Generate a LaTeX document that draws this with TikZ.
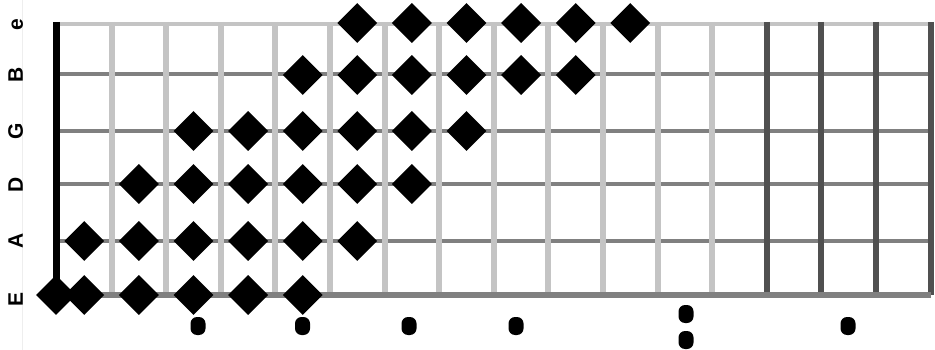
\documentclass[tikz,border=0pt]{standalone}
\usepackage{fontspec}
\setmainfont{Liberation Sans}
\usetikzlibrary{shapes.geometric}
\definecolor{fretlight}{HTML}{C4C4C4}
\definecolor{fretdark}{HTML}{505050}
\definecolor{stringgray}{HTML}{808080}
\definecolor{faintline}{HTML}{EEEEEE}
\begin{document}
\begin{tikzpicture}[x=1pt,y=-1pt,
  note/.style={diamond, fill=black, minimum width=40pt, minimum height=40pt, inner sep=0pt},
  inlay/.style={rectangle, fill=black, rounded corners=6.5pt, minimum width=15pt, minimum height=18pt, inner sep=0pt},
  lbl/.style={rotate=90, anchor=base, inner sep=0pt, font=\fontsize{21}{21}\selectfont\bfseries},
  lightfret/.style={draw=fretlight, line width=6pt},
  darkfret/.style={draw=fretdark, line width=6pt},
  midstring/.style={draw=stringgray, line width=3.5pt},
  topstring/.style={draw=fretlight, line width=4pt},
  lowstring/.style={draw=stringgray, line width=6pt},
  nutline/.style={draw=black, line width=7pt}]
\useasboundingbox (0,0) rectangle (935,350);
\fill[white] (0,0) rectangle (935,350);
\draw[faintline, line width=0.6pt] (22,0) -- (22,350);
% string ends
\foreach \n/\y in {e/24,B/74,G/131,D/184,A/241,E/295}{
  \coordinate (s\n L) at (57,\y);
  \coordinate (s\n R) at (931,\y);
}
% upper strings
\draw[topstring] (seL) -- (seR);
\foreach \n in {B,G,D,A}{\draw[midstring] (s\n L) -- (s\n R);}
% frets
\foreach \k in {1,...,12}{
  \coordinate (f\k T) at ({57+54.6*\k},22);
  \coordinate (f\k B) at ({57+54.6*\k},298);
  \draw[lightfret] (f\k T) -- (f\k B);
}
\foreach \k in {13,...,16}{
  \coordinate (f\k T) at ({57+54.6*\k},22);
  \coordinate (f\k B) at ({57+54.6*\k},295);
  \draw[darkfret] (f\k T) -- (f\k B);
}
% low E string
\draw[lowstring] (sEL) -- (sER);
% nut
\coordinate (nutT) at (56.5,22);
\coordinate (nutB) at (56.5,295);
\draw[nutline] (nutT) -- (nutB);
% notes
\foreach \n/\y/\a/\b in {e/23/6/11,B/75/5/10,G/131/3/8,D/184/2/7,A/241/1/6,E/295/1/5}{
  \foreach \k in {\a,...,\b}{
    \node[note] (n\n\k) at ({57+(\k-0.5)*54.6},\y) {};
  }
}
\node[note] (nE0) at (56,295) {};
% inlay dots
\node[inlay] (d3) at (198,326) {};
\node[inlay] (d5) at (302.5,326) {};
\node[inlay] (d7) at (409,326) {};
\node[inlay] (d9) at (516,326) {};
\node[inlay] (d12a) at (686,314) {};
\node[inlay] (d12b) at (686,340) {};
\node[inlay] (d15) at (848,326) {};
% string labels
\node[lbl] (le) at (23,25) {e};
\node[lbl] (lB) at (23,75) {B};
\node[lbl] (lG) at (23,131) {G};
\node[lbl] (lD) at (23,185) {D};
\node[lbl] (lA) at (23,241) {A};
\node[lbl] (lE) at (23,299) {E};
\end{tikzpicture}
\end{document}
